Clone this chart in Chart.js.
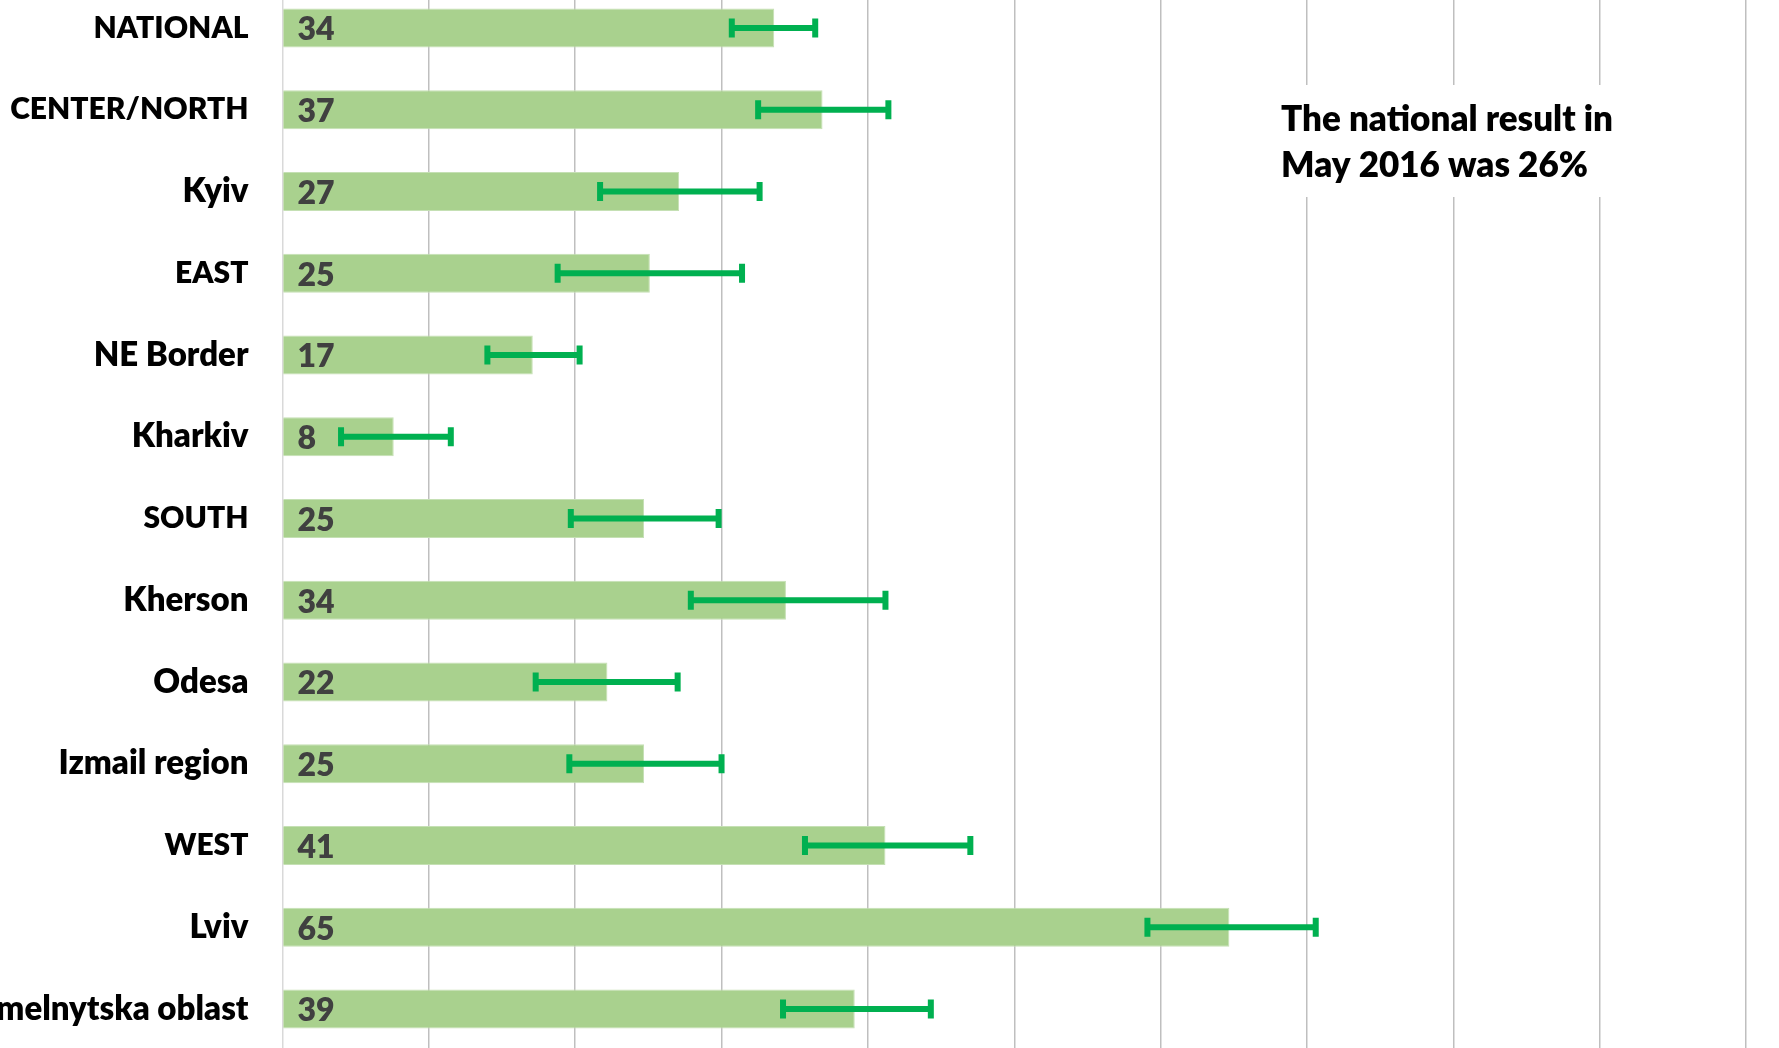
<!DOCTYPE html>
<html>
<head>
<meta charset="utf-8">
<script src="https://cdn.jsdelivr.net/npm/chart.js@4.4.0/dist/chart.umd.min.js"></script>
<style>
  html, body { margin: 0; padding: 0; background: #fff; overflow: hidden; }
  #wrap { position: absolute; left: 0; top: -13px; width: 1779px; height: 1063px; }
</style>
</head>
<body>
<div id="wrap"><canvas id="myChart"></canvas></div>
<script>
const regions = [
  "NATIONAL", "CENTER/NORTH", "Kyiv", "EAST", "NE Border", "Kharkiv",
  "SOUTH", "Kherson", "Odesa", "Izmail region", "WEST", "Lviv",
  "Khmelnytska oblast",
];
const shares = [33.6, 36.9, 27.1, 25.1, 17.1, 7.6, 24.7, 34.4, 22.2, 24.7, 41.2, 64.7, 39.1];
const errLow = [30.7, 32.5, 21.7, 18.8, 14.0, 4.0, 19.7, 27.9, 17.3, 19.6, 35.7, 59.1, 34.2];
const errHigh = [36.4, 41.4, 32.6, 31.4, 20.3, 11.5, 29.8, 41.2, 27.0, 30.0, 47.0, 70.6, 44.3];
const noteLines = ["The national result in", "May 2016 was 26%"];

const FONT = "Lato, 'Open Sans', sans-serif";

// error bars, value labels and the note box
const extras = {
  id: "extras",
  afterDatasetsDraw(chart) {
    const ctx = chart.ctx;
    const x = chart.scales.x;
    const y = chart.scales.y;
    ctx.save();

    ctx.strokeStyle = "#00b050";
    ctx.lineWidth = 6;
    shares.forEach((v, i) => {
      const yc = y.getPixelForValue(i);
      const x1 = x.getPixelForValue(errLow[i]);
      const x2 = x.getPixelForValue(errHigh[i]);
      ctx.beginPath();
      ctx.moveTo(x1, yc);
      ctx.lineTo(x2, yc);
      ctx.moveTo(x1, yc - 9.5);
      ctx.lineTo(x1, yc + 9.5);
      ctx.moveTo(x2, yc - 9.5);
      ctx.lineTo(x2, yc + 9.5);
      ctx.stroke();
    });

    ctx.fillStyle = "#404040";
    ctx.font = "800 32px " + FONT;
    ctx.textAlign = "left";
    ctx.textBaseline = "middle";
    shares.forEach((v, i) => {
      ctx.fillText(String(Math.round(v)), x.getPixelForValue(0) + 15, y.getPixelForValue(i) + 2);
    });

    ctx.fillStyle = "#fff";
    ctx.fillRect(1268, 98, 360, 112);
    ctx.fillStyle = "#000";
    ctx.font = "800 35px " + FONT;
    ctx.textBaseline = "alphabetic";
    ctx.fillText(noteLines[0], 1281, 144);
    ctx.fillText(noteLines[1], 1281, 190);
    ctx.restore();
  },
};

new Chart("myChart", {
  type: "bar",
  data: {
    labels: regions,
    datasets: [
      {
        data: shares,
        backgroundColor: "#a9d18e",
        borderColor: "#c5e0b4",
        borderWidth: 1,
        barPercentage: 0.477,
        categoryPercentage: 1,
      },
    ],
  },
  options: {
    indexAxis: "y",
    responsive: true,
    maintainAspectRatio: false,
    animation: false,
    layout: { padding: { left: 0, right: 33, top: 0, bottom: 0 } },
    plugins: {
      legend: { display: false },
      tooltip: { enabled: false },
    },
    scales: {
      x: {
        min: 0,
        max: 100,
        ticks: { display: false, stepSize: 10 },
        grid: {
          color: (c) => (c.tick && c.tick.value === 0 ? "#d9d9d9" : "#bfbfbf"),
          lineWidth: 1.5,
          drawTicks: false,
        },
        border: { display: false },
      },
      y: {
        grid: { display: false, drawTicks: false },
        border: { display: false },
        ticks: {
          color: "#000",
          padding: 34,
          // all-caps labels run wide in Lato, so set them a bit smaller
          font: (c) => {
            const lbl = regions[c.index] || "";
            return { family: FONT, weight: "800", size: lbl === lbl.toUpperCase() ? 30 : 33 };
          },
        },
        afterFit(scale) {
          scale.width = 282.5;
          scale.paddingTop = 0;
          scale.paddingBottom = 0;
        },
      },
    },
  },
  plugins: [extras],
});
</script>
</body>
</html>
